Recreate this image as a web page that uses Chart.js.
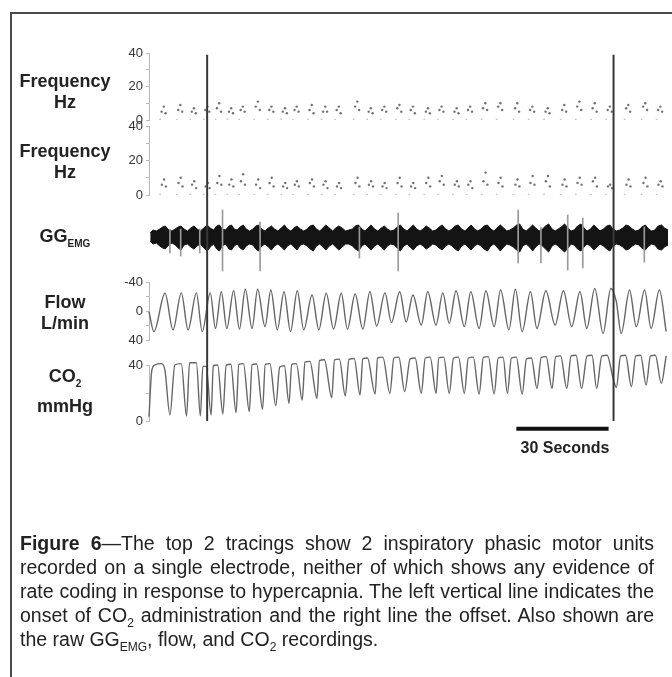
<!DOCTYPE html>
<html><head><meta charset="utf-8">
<script src="https://cdn.jsdelivr.net/npm/chart.js@4.4.1/dist/chart.umd.min.js"></script>
<style>
html,body{margin:0;padding:0;background:#fff;}
body{width:672px;height:677px;position:relative;overflow:hidden;font-family:'Liberation Sans',Arial,sans-serif;color:#222;}
#frame{position:absolute;left:10px;top:12px;width:700px;height:700px;border-top:2px solid #4a4a4a;border-left:2px solid #4a4a4a;}
#c{position:absolute;left:0;top:0;}
.lbl{position:absolute;left:10px;width:110px;text-align:center;font-weight:bold;font-size:18px;line-height:21px;color:#222;}
.lbl sub{font-size:10px;vertical-align:-5px;line-height:0;}
#bar{position:absolute;left:505px;top:438px;width:120px;text-align:center;font-weight:bold;font-size:16px;line-height:20px;color:#222;}
#cap{position:absolute;left:20px;top:531px;transform-origin:0 0;font-size:19.5px;line-height:24px;color:#222;}
#cap .j{text-align:justify;text-align-last:justify;}
#cap sub{font-size:12px;vertical-align:-5px;line-height:0;}
</style></head>
<body>
<div id="frame"></div>
<canvas id="c" width="672" height="677"></canvas>
<div class="lbl" style="top:71px">Frequency<br>Hz</div>
<div class="lbl" style="top:141px">Frequency<br>Hz</div>
<div class="lbl" style="top:226px">GG<sub>EMG</sub></div>
<div class="lbl" style="top:292px">Flow<br>L/min</div>
<div class="lbl" style="top:366px">CO<sub>2</sub></div>
<div class="lbl" style="top:396px">mmHg</div>
<div id="bar">30 Seconds</div>
<div id="cap">
<div class="j"><b>Figure 6</b>—The top 2 tracings show 2 inspiratory phasic motor units</div>
<div class="j">recorded on a single electrode, neither of which shows any evidence of</div>
<div class="j" id="l3">rate coding in response to hypercapnia. The left vertical line indicates the</div>
<div class="j">onset of CO<sub>2</sub> administration and the right line the offset. Also shown are</div>
<div>the raw GG<sub>EMG</sub>, flow, and CO<sub>2</sub> recordings.</div>
</div>
<script>
// ---- time axis (seconds) ----
const timeRange = [0, 168.7];
const co2Onset = 18.9;
const co2Offset = 151.0;
const scaleBarSeconds = [119.4, 149.4];

// ---- motor unit 1 (instantaneous frequency, Hz) ----
const freq1Times = [4.1,4.8,5.4, 9.5,10.2,10.8, 13.9,14.6,15.2, 18.3,19.0,19.6, 22.1,22.8,23.4, 26.0,26.7,27.3, 29.8,30.5,31.1, 34.7,35.4,36.0, 39.1,39.8,40.4, 43.5,44.2,44.8, 47.3,48.0,48.6, 52.2,52.9,53.5, 56.6,57.3,57.9, 61.0,61.7,62.3, 67.0,67.7,68.3, 71.4,72.1,72.7, 75.8,76.5,77.1, 80.7,81.4,82.0, 85.1,85.8,86.4, 90.0,90.7,91.3, 94.4,95.1,95.7, 99.3,100.0,100.6, 103.7,104.4,105.0, 108.6,109.3,109.9, 113.5,114.2,114.8, 119.0,119.7,120.3, 123.9,124.6,125.2, 128.9,129.6,130.2, 134.3,135.0,135.6, 139.2,139.9,140.5, 144.2,144.9,145.5, 149.1,149.8,150.4, 155.1,155.8,156.4, 160.6,161.3,161.9, 165.5,166.2,166.8];
const freq1Hz = [5,8,4, 6,9,5, 5,7,4, 6,8,5, 7,10,5, 5,7,4, 6,8,5, 8,11,6, 6,8,5, 5,7,4, 6,8,5, 6,9,4, 5,8,5, 6,8,4, 8,11,6, 5,7,4, 6,8,5, 7,9,5, 6,8,4, 5,7,4, 6,8,5, 5,7,4, 6,8,5, 7,10,6, 8,10,6, 7,10,5, 6,8,5, 5,7,4, 6,9,5, 8,11,6, 7,10,5, 6,8,5, 7,9,5, 8,10,6, 6,8,5];
// ---- motor unit 2 ----
const freq2Times = [4.2,4.9,5.5, 9.6,10.3,10.9, 14.0,14.7,15.3, 18.4,19.1,19.7, 22.2,22.9,23.5, 26.1,26.8,27.4, 29.9,30.6,31.2, 34.8,35.5,36.1, 39.2,39.9,40.5, 43.6,44.3,44.9, 47.4,48.1,48.7, 52.3,53.0,53.6, 56.7,57.4,58.0, 61.1,61.8,62.4, 67.1,67.8,68.4, 71.5,72.2,72.8, 75.9,76.6,77.2, 80.8,81.5,82.1, 85.2,85.9,86.5, 90.1,90.8,91.4, 94.5,95.2,95.8, 99.4,100.1,100.7, 103.8,104.5,105.1, 108.7,109.4,110.0, 113.6,114.3,114.9, 119.1,119.8,120.4, 124.0,124.7,125.3, 129.0,129.7,130.3, 134.4,135.1,135.7, 139.3,140.0,140.6, 144.3,145.0,145.6, 149.2,149.9,150.5, 155.2,155.9,156.5, 160.7,161.4,162.0, 165.6,166.3,166.9];
const freq2Hz = [6,9,5, 7,10,5, 6,8,4, 5,7,4, 7,11,6, 6,9,5, 8,12,6, 6,9,4, 7,10,5, 5,7,4, 6,8,5, 7,9,5, 6,8,4, 5,7,4, 7,10,5, 6,8,5, 5,7,4, 7,10,5, 5,7,4, 7,10,5, 8,11,6, 6,8,5, 6,8,4, 8,13,6, 7,10,5, 6,9,5, 7,11,6, 8,11,5, 6,9,5, 7,10,6, 8,10,5, 5,6,4, 6,9,5, 7,10,5, 6,8,5];
// first spike of each burst (long interval => near-zero frequency)
const burstStartTimes = [3.6,9.0,13.4,17.8,21.6,25.5,29.3,34.2,38.6,43.0,46.8,51.7,56.1,60.5,66.5,70.9,75.3,80.2,84.6,89.5,93.9,98.8,103.2,108.1,113.0,118.5,123.4,128.4,133.8,138.7,143.7,148.6,154.6,160.1,165.0];
const burstStartHz = [0.3,0.2,0.3,0.3,0.2,0.3,0.3,0.2,0.3,0.3,0.2,0.3,0.3,0.2,0.3,0.3,0.2,0.3,0.3,0.2,0.3,0.3,0.2,0.3,0.3,0.2,0.3,0.3,0.2,0.3,0.3,0.2,0.3,0.3,0.2];

// ---- raw GG EMG envelope (arbitrary units, rows of 10) ----
const emgTimes = [
 0.4,1.3,2.4,3.5,4.4,5.3,6.4,7.5,8.5,9.5,
 10.4,11.4,12.5,13.6,14.6,15.6,16.7,17.8,18.9,19.9,
 21.0,22.0,22.9,23.8,24.9,26.0,26.8,27.7,28.7,29.6,
 30.6,31.6,32.7,33.8,34.7,35.6,36.6,37.7,38.8,39.8,
 40.8,41.9,43.0,44.0,45.0,46.1,47.1,48.1,49.2,50.3,
 51.4,52.4,53.4,54.4,55.5,56.5,57.5,58.6,59.7,60.7,
 61.7,62.8,63.9,65.0,66.1,67.1,68.1,69.2,70.2,71.2,
 72.2,73.3,74.4,75.5,76.5,77.5,78.6,79.7,80.7,81.7,
 82.8,83.9,84.9,85.9,87.0,88.1,89.1,90.1,91.1,92.2,
 93.3,94.3,95.3,96.4,97.5,98.5,99.5,100.5,101.6,102.7,
 103.7,104.7,105.8,106.9,107.9,108.9,110.0,111.1,112.1,113.1,
 114.2,115.3,116.3,117.3,118.4,119.5,120.5,121.5,122.6,123.7,
 124.7,125.7,126.8,127.9,128.9,129.9,131.0,132.0,133.0,134.0,
 135.1,136.2,137.2,138.2,139.3,140.4,141.4,142.4,143.5,144.6,
 145.6,146.6,147.7,148.8,149.8,150.8,151.9,153.0,154.0,155.0,
 156.0,157.1,158.2,159.2,160.2,161.3,162.4,163.4,164.4,165.5,
 166.6,167.6,168.7];
const emgHigh = [
 4,7,6,8,10,11,7,6,8,10,
 11,8,6,9,11,8,6,9,12,9,
 7,11,12,8,7,11,12,8,7,10,
 12,8,6,8,11,12,8,6,9,11,
 8,6,9,12,8,6,9,11,8,6,
 8,11,12,8,6,9,12,9,6,9,
 11,9,6,7,8,11,12,8,6,9,
 12,8,6,9,11,8,6,7,10,12,
 8,6,9,12,8,6,8,11,9,6,
 7,10,12,8,6,8,11,12,8,6,
 9,12,8,6,8,11,12,8,6,9,
 12,9,6,7,9,12,13,8,6,9,
 12,9,6,8,11,13,8,6,8,10,
 13,9,6,7,11,13,9,6,8,12,
 9,6,8,11,12,8,6,7,9,12,
 11,8,6,7,10,12,8,6,7,11,
 12,9,7];
const emgLow = [
 -4,-7,-6,-9,-11,-12,-8,-6,-8,-11,
 -13,-8,-7,-10,-12,-9,-7,-11,-14,-10,
 -7,-12,-14,-9,-7,-12,-13,-9,-7,-11,
 -13,-9,-7,-8,-12,-14,-9,-7,-10,-13,
 -9,-7,-10,-13,-9,-7,-10,-13,-8,-7,
 -9,-12,-14,-9,-7,-10,-13,-9,-7,-10,
 -13,-10,-7,-7,-9,-12,-14,-9,-7,-10,
 -13,-9,-7,-10,-13,-9,-7,-8,-11,-14,
 -9,-7,-10,-13,-9,-7,-9,-12,-10,-7,
 -8,-11,-13,-9,-7,-9,-12,-14,-9,-7,
 -10,-13,-9,-7,-9,-12,-14,-9,-7,-10,
 -14,-10,-7,-8,-10,-13,-15,-9,-7,-10,
 -14,-10,-7,-9,-12,-15,-9,-7,-9,-12,
 -15,-11,-7,-8,-12,-14,-10,-7,-9,-13,
 -10,-7,-9,-12,-14,-9,-7,-8,-10,-13,
 -12,-9,-7,-8,-11,-13,-9,-7,-8,-12,
 -13,-10,-8];
const emgSpikeTimes = [6.8, 10.3, 16.5, 23.9, 36.1, 68.4, 81.0, 120.0, 127.4, 136.1, 141.0, 161.0];
const emgSpikeTop = [8, 8, 8, 27, 15, 10, 24, 27, 10, 22, 19, 10];
const emgSpikeBottom = [-16, -19, -16, -34, -34, -21, -34, -26, -26, -33, -31, -25];

// ---- flow (L/min), turning points ----
const flowTimes = [0.0,1.6,5.2,7.8,10.5,12.7,15.4,17.3,19.9,21.6,23.5,25.3,27.5,29.4,31.3,33.5,35.3,37.7,39.6,41.7,43.9,46.0,48.2,50.3,53.0,55.2,57.6,60.0,62.5,64.5,67.0,69.5,71.8,74.0,76.7,78.8,81.5,83.6,85.8,88.5,90.6,93.3,95.5,97.6,99.8,102.5,104.6,107.3,109.5,112.2,114.3,117.0,119.1,121.3,124.0,126.1,129.0,132.0,134.7,137.4,140.1,142.3,144.9,147.6,150.1,151.9,153.5,156.2,158.4,161.1,163.2,165.9,168.1];
const flowLmin = [1,28.5,-24.4,26,-25,26,-25,28.5,-25,24,-26.6,24,-28,25,-30,24,-30,21.6,-29,26,-26.6,28.5,-28,26,-22,26,-24.4,25,-24.4,25,-23.4,25,-26.6,20.7,-25,16,-26.6,15,-22,19.3,-26.6,19.3,-25,17,-28,21.6,-26.6,24,-28,21.6,-29,26,-30,28.5,-26.6,24,-28,19.3,-28,21.6,-26.6,24,-31,31,-31,-12.8,31,-29,21.6,-29,24,-29,28.5];

// ---- CO2 (mmHg): troughs and plateau start/end ----
const co2Times = [0.0,0.9,1.9,4.1,5.2,6.8,8.4,10.5,12.2,13.2,15.4,16.7,17.5,18.6,20.2,
 20.9,22.3,24.0, 25.1,26.6,28.3, 29.2,30.7,32.6, 33.5,35.0,36.9, 37.8,39.3,41.2, 42.5,44.0,45.5,
 46.4,47.9,49.8, 50.7,52.3,54.6, 55.4,57.0,59.4, 60.3,61.9,63.8, 65.0,66.7,68.6, 69.5,71.0,73.5,
 74.3,76.0,78.3, 79.6,81.2,83.1, 84.9,86.5,88.5, 89.8,91.4,93.3, 94.2,95.8,97.6, 99.0,100.6,102.5,
 103.8,105.4,107.3, 108.7,110.3,112.2, 113.5,115.1,116.5, 117.8,119.4,121.3, 122.7,124.3,126.1,
 127.5,129.1,131.0, 132.2,133.8,135.8, 137.2,138.8,140.6, 142.4,144.0,145.5, 147.2,148.9,150.9,151.9,
 153.3,154.9,156.8, 158.2,159.8,161.6, 163.0,164.6,166.5, 168.1];
const co2mmHg = [3,36,40,41,36,4.3,40,41,3.6,41.6,41.6,3.6,39,39,4.3,
 39.5,40,5, 40,40.5,6, 40.5,41,6.7, 40.2,40.7,8.3, 40.5,41,11, 38.5,39.5,12.6,
 40.5,41,15, 42,42.6,16.2, 43.2,43.8,16.7, 43.6,44.2,17.9, 44,44.6,18.6, 44.4,45,19.3,
 45,45.6,19.8, 45,45.6,21, 44.4,45,19.8, 45,45.6,19.8, 45,45.6,19.8, 45,45.6,19.8,
 45,45.6,19.3, 45.5,46,19.3, 45,45.6,19.8, 45,45.6,19.3, 44.4,45,23.3,
 45.5,46,23.3, 46,46.5,23.3, 46.5,47,23.3, 46.5,47,23.3, 46.5,47,30,24,
 46.5,47,24.5, 46.5,47,25.7, 46.5,47,26.9, 46.5];

// ---- axis tick settings ----
const freqTicks = {min: 0, max: 40, step: 10, labelEvery: 20};
const flowTicks = {min: -40, max: 40, step: 20, labelEvery: 40};
const co2Ticks = {min: 0, max: 40, step: 20, labelEvery: 40};

// ---------- build ----------
const pts = (xs, ys) => xs.map((x, i) => ({x, y: ys[i]}));
const FONT = "'Liberation Sans', Arial, sans-serif";

// fit caption to a condensed width
(function(){
  const ctx = document.createElement('canvas').getContext('2d');
  ctx.font = '19.5px ' + FONT;
  const w = ctx.measureText(document.getElementById('l3').textContent).width;
  const s = 630 / w;
  const cap = document.getElementById('cap');
  cap.style.transform = 'scaleX(' + s.toFixed(4) + ')';
  cap.style.width = (634 / s) + 'px';
})();

function valueAxis(t, reverse, weight, stackWeight) {
  return {
    type: 'linear', position: 'left', stack: 'traces', weight, stackWeight,
    min: t.min, max: t.max, reverse,
    border: {display: true, color: '#b8b8b8', width: 1},
    grid: {display: true, drawOnChartArea: false, drawTicks: true, tickLength: 3, color: '#b8b8b8'},
    ticks: {stepSize: t.step, autoSkip: false, padding: 3, color: '#333',
      font: {family: FONT, size: 13},
      callback: v => (v % t.labelEvery === 0 ? String(v) : '')},
    afterFit: s => { s.width = 149; }
  };
}
function hiddenAxis(weight, stackWeight, min, max) {
  return {type: 'linear', position: 'left', stack: 'traces', weight, stackWeight, min, max, display: false};
}

const TRACE = '#666';
const EMG = '#141414';
const datasets = [
  {type: 'line', label: 'onset', data: [{x: co2Onset, y: 0}, {x: co2Onset, y: 0.995}], yAxisID: 'yAll',
   borderColor: '#383838', borderWidth: 2, pointRadius: 0},
  {type: 'line', label: 'offset', data: [{x: co2Offset, y: 0}, {x: co2Offset, y: 0.995}], yAxisID: 'yAll',
   borderColor: '#383838', borderWidth: 2, pointRadius: 0},
  {type: 'line', label: 'scale bar', data: [{x: scaleBarSeconds[0], y: -0.021}, {x: scaleBarSeconds[1], y: -0.021}], yAxisID: 'yAll',
   borderColor: '#111', borderWidth: 4, pointRadius: 0, clip: false, borderCapStyle: 'butt'},
  {type: 'scatter', label: 'MU1', data: pts(freq1Times, freq1Hz), yAxisID: 'yF1',
   pointRadius: 1.2, pointBackgroundColor: '#707070', pointBorderWidth: 0},
  {type: 'scatter', label: 'MU1 first', data: pts(burstStartTimes, burstStartHz), yAxisID: 'yF1',
   pointRadius: 0.9, pointBackgroundColor: '#c4c4c4', pointBorderWidth: 0},
  {type: 'scatter', label: 'MU2', data: pts(freq2Times, freq2Hz), yAxisID: 'yF2',
   pointRadius: 1.2, pointBackgroundColor: '#707070', pointBorderWidth: 0},
  {type: 'scatter', label: 'MU2 first', data: pts(burstStartTimes, burstStartHz), yAxisID: 'yF2',
   pointRadius: 0.9, pointBackgroundColor: '#c4c4c4', pointBorderWidth: 0},
  {type: 'bar', label: 'EMG spikes', data: emgSpikeTimes.map((x, i) => ({x, y: [emgSpikeBottom[i], emgSpikeTop[i]]})),
   yAxisID: 'yEmg', backgroundColor: '#9a9a9a', barThickness: 1, borderWidth: 0, grouped: false},
  {type: 'line', label: 'EMG hi', data: pts(emgTimes, emgHigh), yAxisID: 'yEmg',
   borderColor: EMG, borderWidth: 1, pointRadius: 0, tension: 0},
  {type: 'line', label: 'EMG lo', data: pts(emgTimes, emgLow), yAxisID: 'yEmg',
   borderColor: EMG, borderWidth: 1, pointRadius: 0, tension: 0, fill: '-1', backgroundColor: EMG},
  {type: 'line', label: 'Flow', data: pts(flowTimes, flowLmin), yAxisID: 'yFlow', clip: false,
   borderColor: TRACE, borderWidth: 1.4, pointRadius: 0, cubicInterpolationMode: 'monotone'},
  {type: 'line', label: 'CO2', data: pts(co2Times, co2mmHg), yAxisID: 'yCO2', clip: false,
   borderColor: TRACE, borderWidth: 1.4, pointRadius: 0, cubicInterpolationMode: 'monotone'}
];

new Chart(document.getElementById('c'), {
  type: 'line',
  data: {datasets},
  options: {
    responsive: false, devicePixelRatio: 1, animation: false,
    layout: {padding: {left: 0, right: 0, top: 53, bottom: 256}},
    plugins: {legend: {display: false}, tooltip: {enabled: false}},
    scales: {
      x: {type: 'linear', min: timeRange[0], max: timeRange[1], display: false, offset: false, grid: {offset: false}},
      yF1: valueAxis(freqTicks, false, 7, 67),
      ySp1: hiddenAxis(6, 6, 0, 1),
      yF2: valueAxis(freqTicks, false, 5, 69),
      yEmg: hiddenAxis(4, 87, -45, 42),
      yFlow: valueAxis(flowTicks, true, 3, 58),
      ySp2: hiddenAxis(2, 25, 0, 1),
      yCO2: valueAxis(co2Ticks, false, 1, 56),
      yAll: {type: 'linear', position: 'left', min: 0, max: 1, display: false, weight: 0}
    }
  }
});
</script>
</body></html>
